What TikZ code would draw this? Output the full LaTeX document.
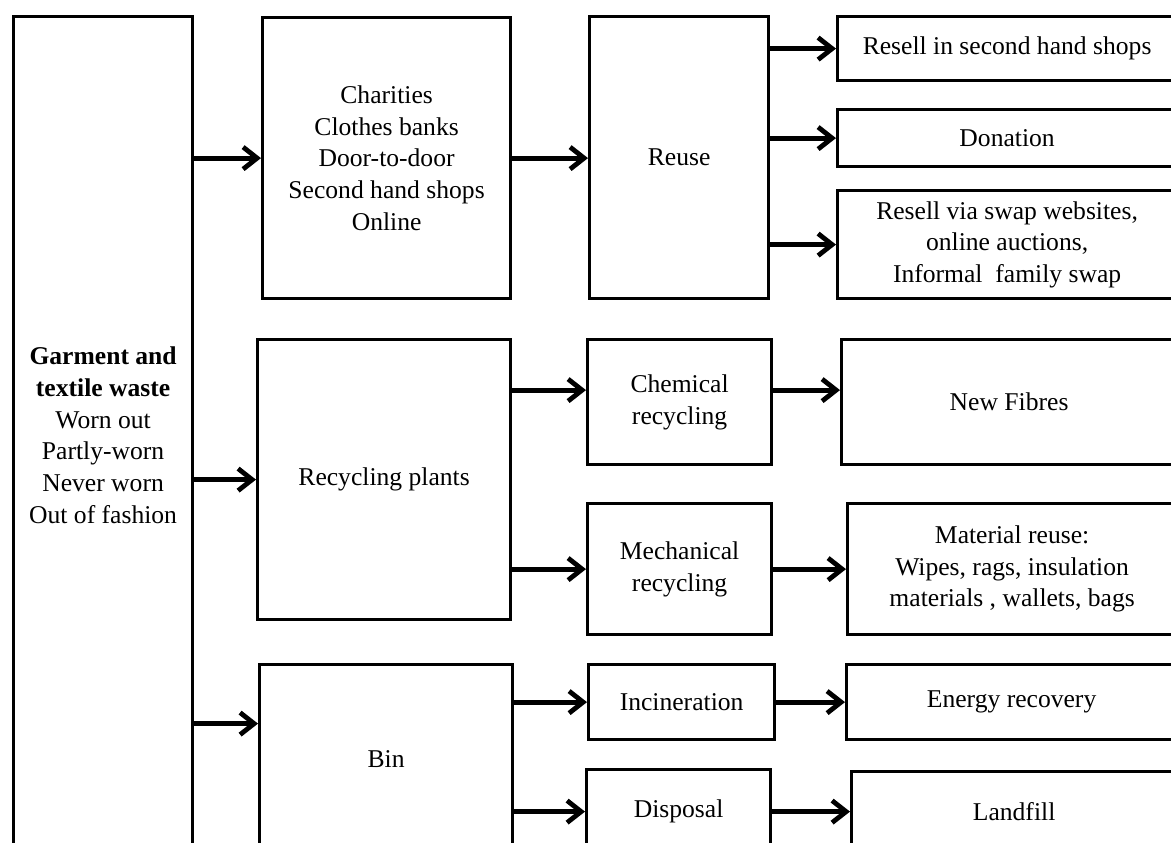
\documentclass[tikz,border=0pt]{standalone}
\usepackage{fontspec}
\setmainfont{Liberation Serif}
\usetikzlibrary{calc,arrows.meta}

\tikzset{
    box/.style 2 args={draw=black, line width=1.6pt, inner sep=0pt, align=center,
        anchor=north west, minimum width=#1*0.5pt, minimum height=#2*0.5pt,
        font=\fontsize{12.8pt}{15.85pt}\selectfont},
    arr/.style={line width=2.4pt, -{Straight Barb[length=7pt,width=11pt]}}
}

\begin{document}
\begin{tikzpicture}[x=0.5pt, y=-0.5pt]
    % Fix the page and cut the boxes at its edges
    \useasboundingbox (0,0) rectangle (1171,842);
    \clip (0,0) rectangle (1171,842);

    % Source box
    \node[box={179}{837}] (waste) at (12,15)
        {\textbf{Garment and}\\ \textbf{textile waste}\\ Worn out\\ Partly-worn\\ Never worn\\ Out of fashion};

    % Collection routes
    \node[box={248}{281}] (charit) at (261,16)
        {Charities\\ Clothes banks\\ Door-to-door\\ Second hand shops\\ Online};
    \node[box={253}{280}] (recyc) at (256,338) {Recycling plants};
    \node[box={253}{188}] (bin) at (258,663) {Bin};

    % Treatment
    \node[box={179}{282}] (reuse) at (588,15) {Reuse};
    \node[box={184}{125}] (chem) at (586,338) {Chemical\\ recycling};
    \node[box={184}{131}] (mech) at (586,502) {Mechanical\\ recycling};
    \node[box={186}{75}] (incin) at (587,663) {Incineration};
    \node[box={184}{84}] (dispo) at (585,768) {Disposal};

    % Outcomes
    \node[box={339}{64}] (resell) at (836,15) {Resell in second hand shops};
    \node[box={339}{57}] (donat) at (836,108) {Donation};
    \node[box={339}{108}] (swap) at (836,189)
        {Resell via swap websites,\\ online auctions,\\ Informal\ \ family swap};
    \node[box={335}{125}] (fibre) at (840,338) {New Fibres};
    \node[box={329}{131}] (mater) at (846,502)
        {Material reuse:\\ Wipes, rags, insulation\\ materials , wallets, bags};
    \node[box={330}{75}] (energ) at (845,663) {Energy recovery};
    \node[box={325}{80}] (landf) at (850,770) {Landfill};

    % Arrow ends that sit off the box centres
    \coordinate (binin) at ($(bin.west)+(0,-35)$);
    \coordinate (chemin) at ($(chem.west)+(0,-12)$);

    % Arrows from the source
    \draw[arr] (waste.east |- charit.west) -- (charit.west);
    \draw[arr] (waste.east |- recyc.west) -- (recyc.west);
    \draw[arr] (waste.east |- binin) -- (binin);

    % Arrows to treatment
    \draw[arr] (charit.east) -- (charit.east -| reuse.west);
    \draw[arr] (recyc.east |- chemin) -- (chemin);
    \draw[arr] (recyc.east |- mech.west) -- (mech.west);
    \draw[arr] (bin.east |- incin.west) -- (incin.west);
    \draw[arr] (bin.east |- dispo.west) -- (dispo.west);

    % Arrows to outcomes
    \draw[arr] (reuse.east |- resell.west) -- (resell.west);
    \draw[arr] (reuse.east |- donat.west) -- (donat.west);
    \draw[arr] (reuse.east |- swap.west) -- (swap.west);
    \draw[arr] (chem.east |- chemin) -- (fibre.west |- chemin);
    \draw[arr] (mech.east) -- (mater.west);
    \draw[arr] (incin.east) -- (energ.west);
    \draw[arr] (dispo.east) -- (landf.west);

\end{tikzpicture}
\end{document}
